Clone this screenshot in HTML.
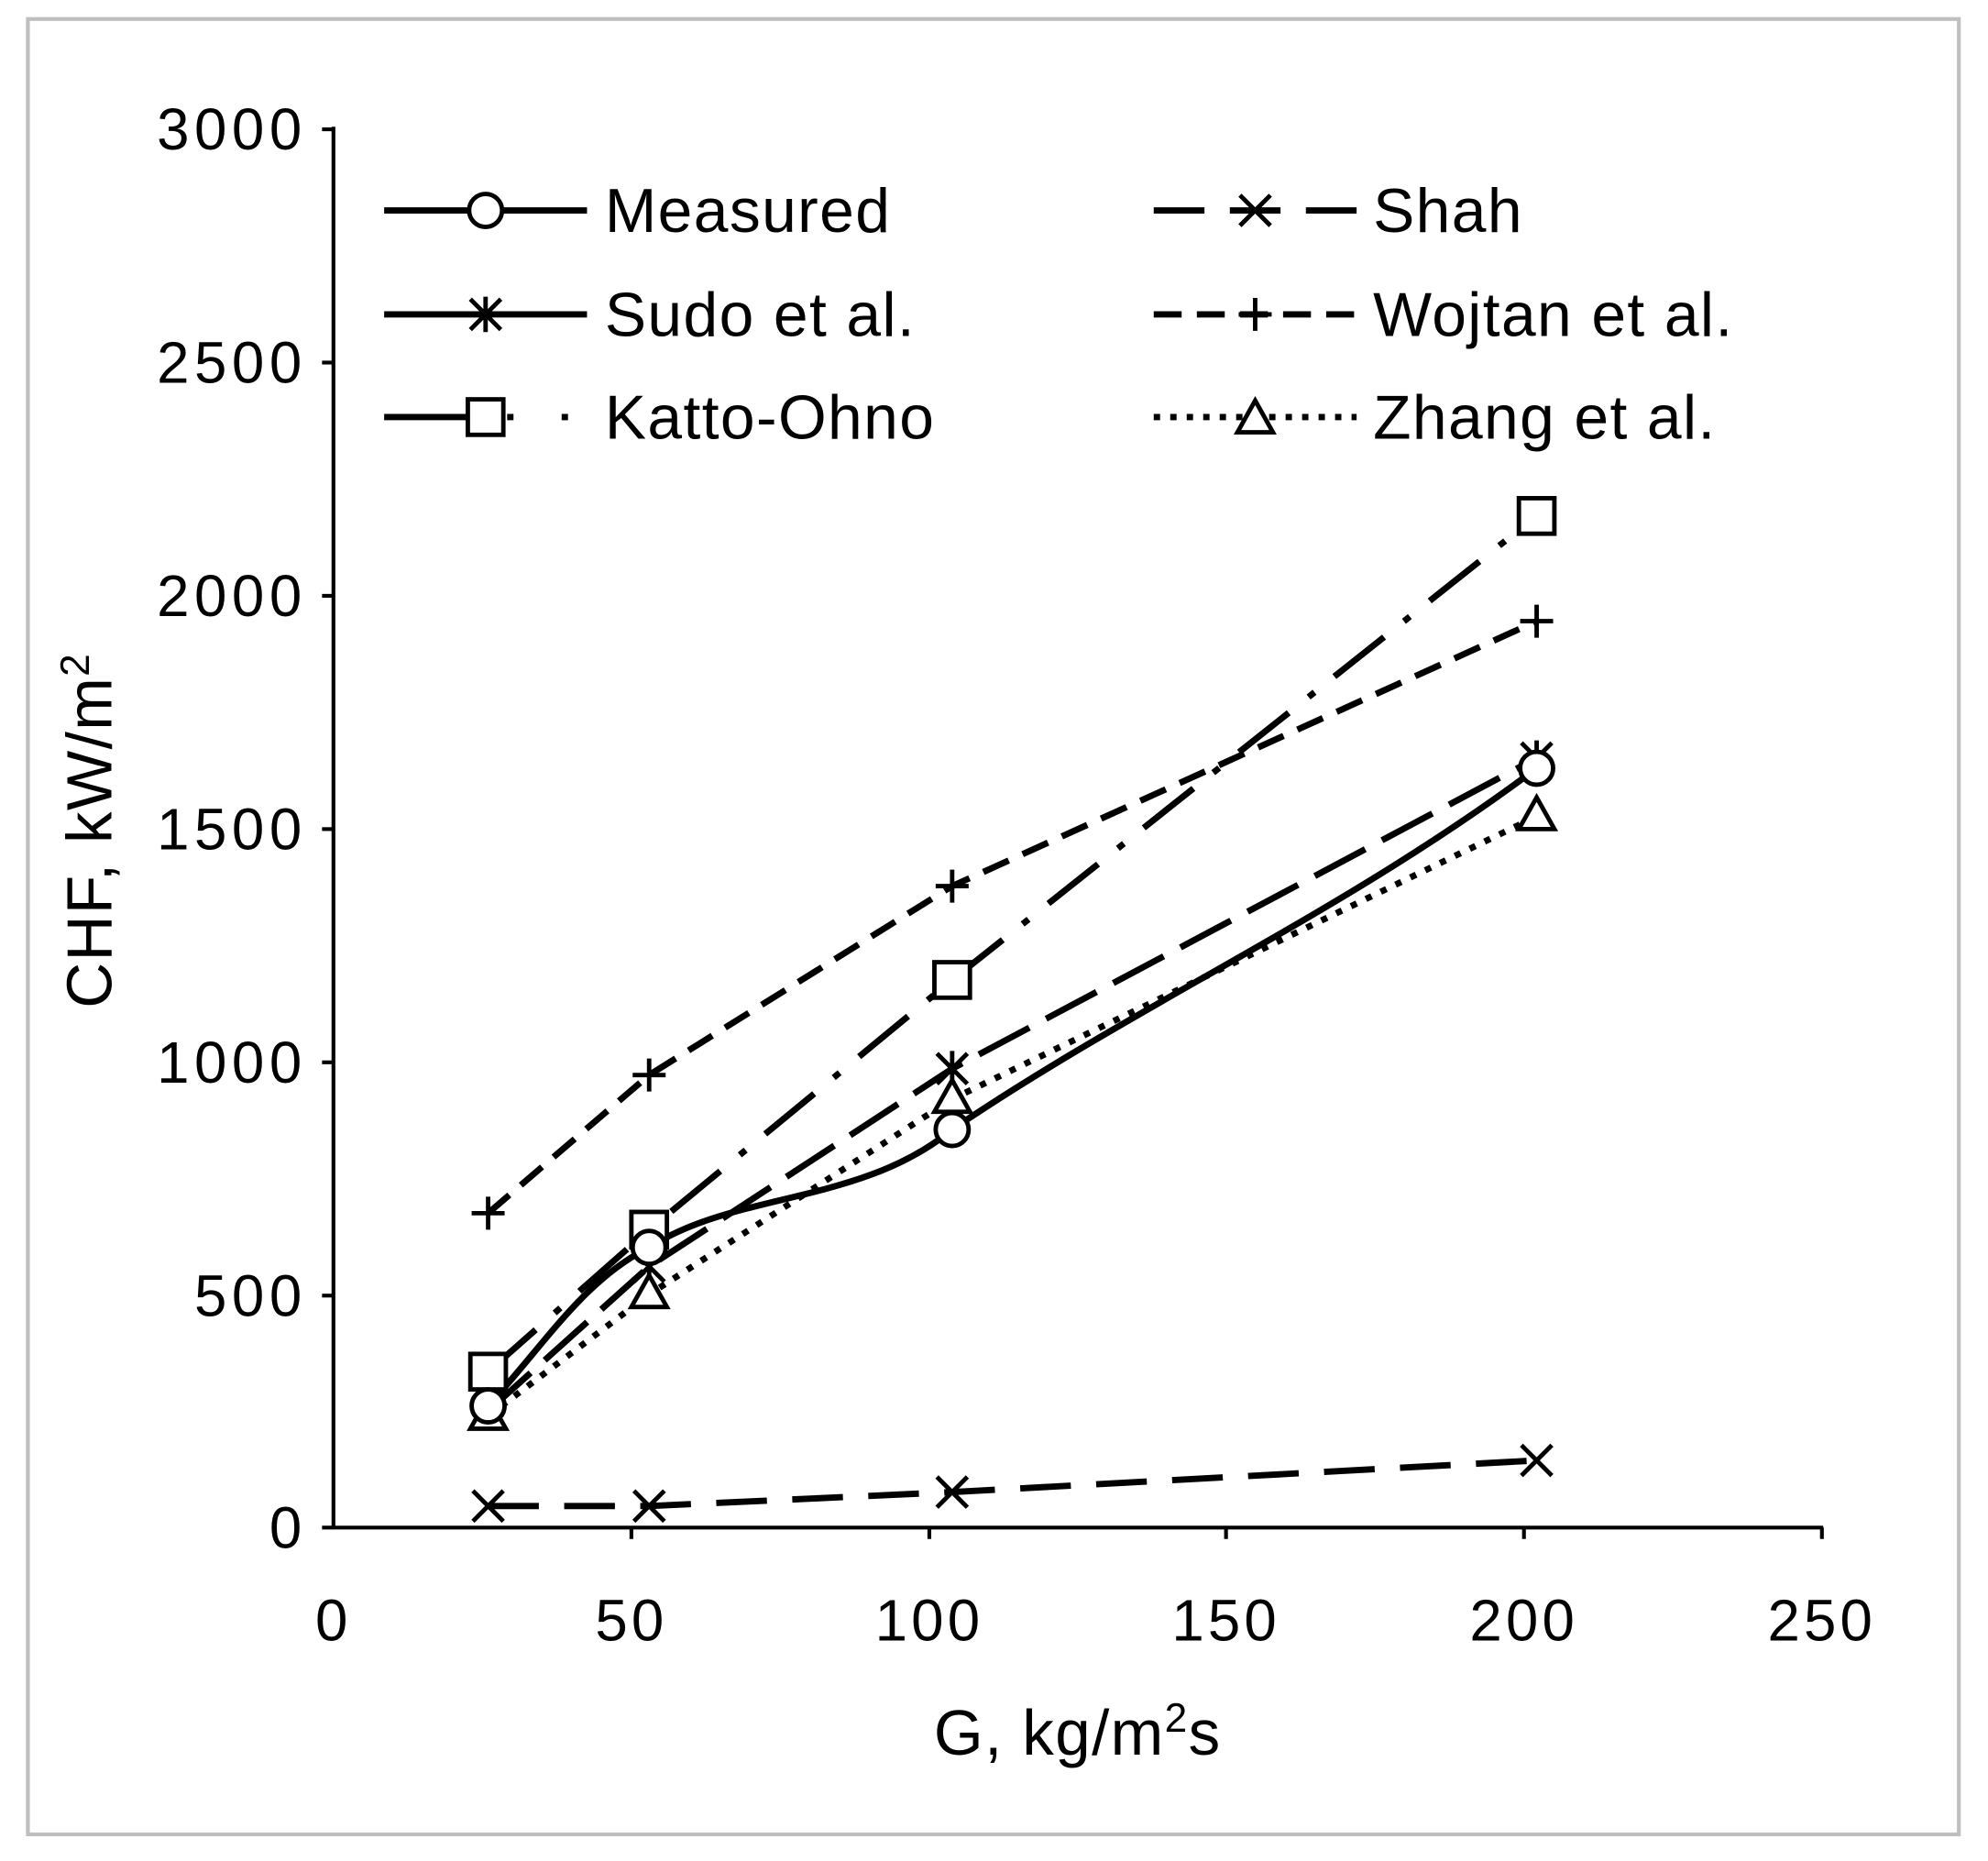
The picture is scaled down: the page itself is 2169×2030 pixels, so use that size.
<!DOCTYPE html>
<html><head><meta charset="utf-8"><style>html,body{margin:0;padding:0;background:#fff}svg{display:block}</style></head>
<body>
<svg width="2169" height="2030" viewBox="0 0 1568 1468" preserveAspectRatio="none" xmlns="http://www.w3.org/2000/svg" font-family="Liberation Sans, sans-serif">
<defs>
<path id="xs" d="M-12,-12 L12,12 M-12,12 L12,-12"/>
<path id="ast" d="M-12,-12 L12,12 M-12,12 L12,-12 M0,-14 L0,14"/>
<path id="pl" d="M-13,0 L13,0 M0,-13 L0,13"/>
</defs>
<rect x="0" y="0" width="1568" height="1468" fill="#fff"/>
<rect x="22" y="15" width="1523" height="1432" fill="none" stroke="#bfbfbf" stroke-width="3"/>
<g stroke="#000" stroke-width="3" fill="none">
<line x1="263" y1="100" x2="263" y2="1206"/>
<line x1="262" y1="1205" x2="1438" y2="1205"/>
<line x1="254" y1="102" x2="263" y2="102"/>
<line x1="254" y1="286" x2="263" y2="286"/>
<line x1="254" y1="470" x2="263" y2="470"/>
<line x1="254" y1="654" x2="263" y2="654"/>
<line x1="254" y1="838" x2="263" y2="838"/>
<line x1="254" y1="1022" x2="263" y2="1022"/>
<line x1="254" y1="1205" x2="263" y2="1205"/>
<line x1="498" y1="1205" x2="498" y2="1214"/>
<line x1="733" y1="1205" x2="733" y2="1214"/>
<line x1="967" y1="1205" x2="967" y2="1214"/>
<line x1="1202" y1="1205" x2="1202" y2="1214"/>
<line x1="1437" y1="1205" x2="1437" y2="1214"/>
</g>
<g font-size="46" fill="#000" text-anchor="end" letter-spacing="4">
<text x="242" y="118">3000</text>
<text x="242" y="302">2500</text>
<text x="242" y="486">2000</text>
<text x="242" y="670">1500</text>
<text x="242" y="854">1000</text>
<text x="242" y="1038">500</text>
<text x="242" y="1221">0</text>
</g>
<g font-size="46" fill="#000" text-anchor="middle" letter-spacing="3">
<text x="263" y="1294">0</text>
<text x="498" y="1294">50</text>
<text x="733" y="1294">100</text>
<text x="967" y="1294">150</text>
<text x="1202" y="1294">200</text>
<text x="1437" y="1294">250</text>
</g>
<g font-size="50" fill="#000" text-anchor="middle" letter-spacing="1">
<text x="850" y="1384">G, kg/m<tspan font-size="32" dy="-18">2</tspan><tspan dy="18">s</tspan></text>
<text transform="translate(88,655) rotate(-90)">CHF, kW/m<tspan font-size="32" dy="-18">2</tspan></text>
</g>
<g fill="none" stroke="#000" stroke-width="5">
<polyline points="385,1188 512,1188 751,1177 1212,1152" stroke-dasharray="40,20"/>
<polyline points="385,957 512,848 751,699 1212,490" stroke-dasharray="22,12"/>
<polyline points="385,1082 512,970 751,773 1212,407" stroke-dasharray="50,20,6,20"/>
<polyline points="385,1117 512,1021 751,867 1212,644" stroke-dasharray="5,8"/>
<polyline points="385,1113 512,999 751,843 1212,598" stroke-dasharray="45,15"/>
<path d="M385,1109 C430,1060 460,1010 512,984 C580,940 680,950 751,891 C900,790 1060,720 1212,606"/>
</g>
<g fill="none" stroke="#000" stroke-width="3.5">
<use href="#xs" x="385" y="1188"/><use href="#xs" x="512" y="1188"/><use href="#xs" x="751" y="1177"/><use href="#xs" x="1212" y="1152"/>
<use href="#ast" x="385" y="1113"/><use href="#ast" x="512" y="999"/><use href="#ast" x="751" y="843"/><use href="#ast" x="1212" y="598"/>
<use href="#pl" x="385" y="957"/><use href="#pl" x="512" y="848"/><use href="#pl" x="751" y="699"/><use href="#pl" x="1212" y="490"/>
<g fill="#fff">
<rect x="371" y="1068" width="28" height="28"/><rect x="498" y="956" width="28" height="28"/><rect x="737" y="759" width="28" height="28"/><rect x="1198" y="393" width="28" height="28"/>
<path d="M385,1102 L399,1127 L371,1127Z"/><path d="M512,1006 L526,1031 L498,1031Z"/><path d="M751,852 L765,877 L737,877Z"/><path d="M1212,629 L1226,654 L1198,654Z"/>
<circle cx="385" cy="1109" r="13"/><circle cx="512" cy="984" r="13"/><circle cx="751" cy="891" r="13"/><circle cx="1212" cy="606" r="13"/>
</g>
</g>
<g fill="none" stroke="#000" stroke-width="5">
<line x1="303" y1="166" x2="463" y2="166"/>
<line x1="303" y1="248" x2="463" y2="248"/>
<line x1="303" y1="329" x2="383" y2="329"/>
<line x1="400" y1="329" x2="463" y2="329" stroke-dasharray="5,38"/>
<line x1="910" y1="166" x2="1070" y2="166" stroke-dasharray="40,20"/>
<line x1="910" y1="248" x2="1070" y2="248" stroke-dasharray="22,12"/>
<line x1="910" y1="329" x2="1070" y2="329" stroke-dasharray="5,8"/>
</g>
<g fill="#fff" stroke="#000" stroke-width="3.5">
<circle cx="383" cy="166" r="13"/>
<path d="M371,236 L395,260 M371,260 L395,236 M383,234 L383,262" fill="none"/>
<rect x="369" y="315" width="28" height="28"/>
<path d="M978,154 L1002,178 M978,178 L1002,154" fill="none"/>
<path d="M977,248 L1003,248 M990,235 L990,261" fill="none"/>
<path d="M990,316 L1004,341 L976,341Z"/>
</g>
<g font-size="49" fill="#000" letter-spacing="1">
<text x="477" y="183">Measured</text>
<text x="477" y="265">Sudo et al.</text>
<text x="477" y="346">Katto-Ohno</text>
<text x="1083" y="183">Shah</text>
<text x="1083" y="265">Wojtan et al.</text>
<text x="1083" y="346">Zhang et al.</text>
</g>
</svg>
</body></html>
